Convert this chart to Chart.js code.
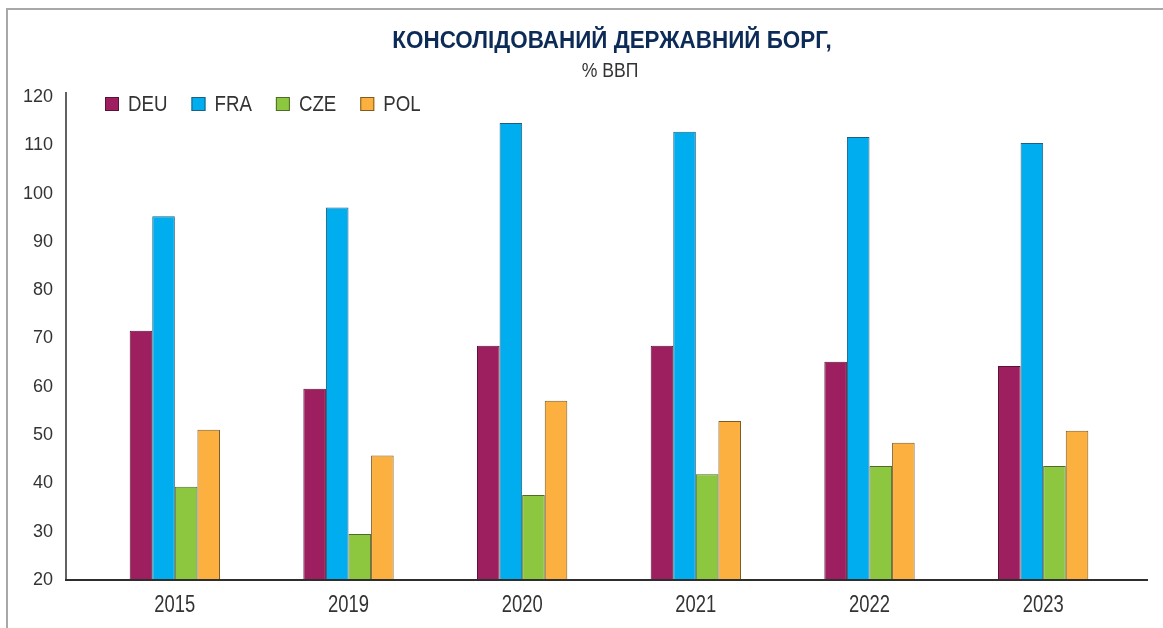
<!DOCTYPE html>
<html>
<head>
<meta charset="utf-8">
<script src="https://cdn.jsdelivr.net/npm/chart.js@4.4.1/dist/chart.umd.min.js"></script>
<style>
  html, body { margin: 0; padding: 0; background: #fff; }
  #wrap { position: relative; width: 1163px; height: 628px; overflow: hidden; }
  #frame { position: absolute; left: 6px; top: 8px; right: -10px; bottom: -10px;
           border-top: 2px solid #a8a8a8; border-left: 2px solid #a8a8a8; }
  canvas { position: absolute; left: 0; top: 0; }
</style>
</head>
<body>
<div id="wrap">
  <div id="frame"></div>
  <canvas id="c" width="1163" height="628"></canvas>
</div>
<script>
const titleText = 'КОНСОЛІДОВАНИЙ ДЕРЖАВНИЙ БОРГ,';
const subtitleText = '% ВВП';
const categories = ['2015', '2019', '2020', '2021', '2022', '2023'];
const seriesNames = ['DEU', 'FRA', 'CZE', 'POL'];
const deuValues = [71.6, 59.6, 68.5, 68.5, 65.2, 64.3];
const fraValues = [95.3, 97.1, 114.6, 112.8, 111.7, 110.5];
const czeValues = [39.3, 29.5, 37.6, 41.9, 43.6, 43.6];
const polValues = [51.1, 45.8, 57.1, 52.9, 48.4, 50.9];
const yMin = 20, yMax = 120, yStep = 10;

const fills = ['#9e1f5f', '#00aeef', '#8dc63f', '#fbb040'];
const borders = ['#5a1236', '#1d5f7e', '#4e6c28', '#7e5a22'];
const allValues = [deuValues, fraValues, czeValues, polValues];

const FONT = '"Liberation Sans", Arial, sans-serif';
const TEXT = '#333333';

function condensedText(ctx, text, x, y, sx, align) {
  ctx.save();
  ctx.translate(x, y);
  ctx.scale(sx, 1);
  ctx.textAlign = align;
  ctx.fillText(text, 0, 0);
  ctx.restore();
}

const decorPlugin = {
  id: 'decor',
  afterDatasetsDraw(chart) {
    const ctx = chart.ctx;
    const ca = chart.chartArea;
    ctx.save();
    ctx.strokeStyle = '#2e2e2e';
    ctx.lineWidth = 1.5;
    ctx.beginPath();
    ctx.moveTo(ca.left - 22, 92);
    ctx.lineTo(ca.left - 22, ca.bottom + 0.75);
    ctx.stroke();
    ctx.lineWidth = 2;
    ctx.beginPath();
    ctx.moveTo(ca.left - 23, ca.bottom);
    ctx.lineTo(ca.right + 18, ca.bottom);
    ctx.stroke();
    ctx.restore();
  },
  afterDraw(chart) {
    const ctx = chart.ctx;
    const ca = chart.chartArea;
    ctx.save();
    ctx.textBaseline = 'middle';
    // title
    ctx.fillStyle = '#0c2c57';
    ctx.font = 'bold 24px ' + FONT;
    condensedText(ctx, titleText, 612, 41, 0.935, 'center');
    ctx.fillStyle = TEXT;
    ctx.font = '20px ' + FONT;
    condensedText(ctx, subtitleText, 610, 71, 0.88, 'center');
    // x tick labels
    const xs = chart.scales.x;
    ctx.font = '23px ' + FONT;
    categories.forEach((lab, i) => {
      condensedText(ctx, lab, xs.getPixelForTick(i), ca.bottom + 26, 0.8, 'center');
    });
    // legend
    ctx.font = '22px ' + FONT;
    let x = 105;
    const y = 104;
    const sx = 0.85;
    chart.data.datasets.forEach((ds) => {
      ctx.fillStyle = ds.backgroundColor;
      ctx.fillRect(x, y - 7, 14, 14);
      ctx.strokeStyle = ds.borderColor;
      ctx.lineWidth = 1;
      ctx.strokeRect(x + 0.5, y - 6.5, 13, 13);
      ctx.fillStyle = TEXT;
      condensedText(ctx, ds.label, x + 23, y + 1, sx, 'left');
      x += 23 + ctx.measureText(ds.label).width * sx + 24;
    });
    ctx.restore();
  }
};

new Chart(document.getElementById('c'), {
  type: 'bar',
  data: {
    labels: categories,
    datasets: seriesNames.map((name, i) => ({
      label: name,
      data: allValues[i],
      backgroundColor: fills[i],
      borderColor: borders[i],
      borderWidth: 1,
      borderSkipped: 'bottom',
      categoryPercentage: 0.52,
      barPercentage: 1.0
    }))
  },
  options: {
    responsive: false,
    animation: false,
    devicePixelRatio: 1,
    layout: { padding: { left: 0, right: 33, top: 97, bottom: 0 } },
    plugins: {
      legend: { display: false },
      title: { display: false },
      tooltip: { enabled: false }
    },
    scales: {
      x: {
        grid: { display: false, drawTicks: false },
        border: { display: false },
        ticks: { display: false },
        afterFit(scale) { scale.height = 48; }
      },
      y: {
        min: yMin,
        max: yMax,
        grid: { display: false, drawTicks: false },
        border: { display: false },
        ticks: { stepSize: yStep, color: TEXT, font: { family: FONT, size: 18 }, padding: 35 },
        afterFit(scale) { scale.width = 88; }
      }
    }
  },
  plugins: [decorPlugin]
});
</script>
</body>
</html>
